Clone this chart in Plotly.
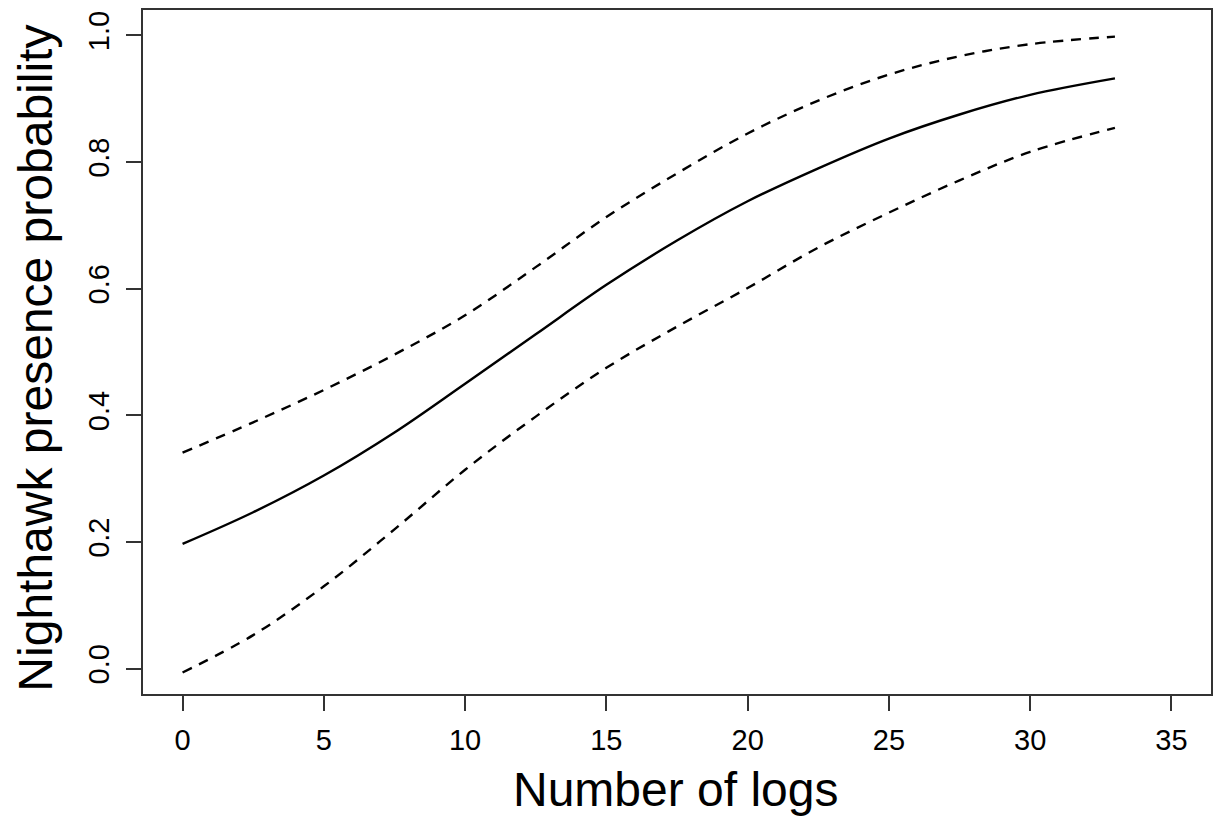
import plotly.graph_objects as go

# Values
logs = [0, 2.5, 5, 7.5, 10, 12.5, 15, 17.5, 20, 22.5, 25, 27.5, 30, 33]
prob_fit = [0.197, 0.247, 0.305, 0.373, 0.450, 0.528, 0.606, 0.676, 0.738, 0.790, 0.837, 0.875, 0.906, 0.932]
prob_upper = [0.341, 0.389, 0.440, 0.496, 0.558, 0.634, 0.713, 0.782, 0.845, 0.897, 0.938, 0.967, 0.986, 0.998]
prob_lower = [-0.006, 0.053, 0.130, 0.220, 0.314, 0.398, 0.475, 0.540, 0.601, 0.665, 0.720, 0.771, 0.816, 0.854]

x_ticks = [0, 5, 10, 15, 20, 25, 30, 35]
y_ticks = [0.0, 0.2, 0.4, 0.6, 0.8, 1.0]
y_tick_text = ["0.0", "0.2", "0.4", "0.6", "0.8", "1.0"]

FONT = "Liberation Sans, Arial, sans-serif"

fig = go.Figure()
fig.add_trace(go.Scatter(x=logs, y=prob_fit, mode="lines",
                         line=dict(color="black", width=2.4, shape="spline"),
                         showlegend=False))
for ys in (prob_upper, prob_lower):
    fig.add_trace(go.Scatter(x=logs, y=ys, mode="lines",
                             line=dict(color="black", width=2.4, shape="spline", dash="10px,8px"),
                             showlegend=False))

axis_common = dict(showline=True, linecolor="#333333", linewidth=1.5, mirror=True,
                   ticks="outside", ticklen=15, tickwidth=1.5, tickcolor="#333333",
                   showgrid=False, zeroline=False,
                   tickfont=dict(family=FONT, size=29, color="black"))

fig.update_xaxes(range=[-1.4, 36.4], tickvals=x_ticks, ticklabelstandoff=4, **axis_common)
fig.update_yaxes(range=[-0.04, 1.04], tickvals=y_ticks, ticktext=y_tick_text,
                 tickangle=-90, ticklabelstandoff=6, **axis_common)

fig.add_annotation(text="Number of logs", xref="paper", yref="paper",
                   x=0.499, y=-0.140, xanchor="center", yanchor="middle",
                   showarrow=False, font=dict(family=FONT, size=48, color="black"))
fig.add_annotation(text="Nighthawk presence probability", xref="paper", yref="paper",
                   x=-0.101, y=0.4905, xanchor="center", yanchor="middle", textangle=-90,
                   showarrow=False, font=dict(family=FONT, size=48, color="black"))

fig.update_layout(width=1217, height=819,
                  margin=dict(l=143, r=4, t=10, b=125),
                  paper_bgcolor="white", plot_bgcolor="white")

fig.write_html("out.html")
